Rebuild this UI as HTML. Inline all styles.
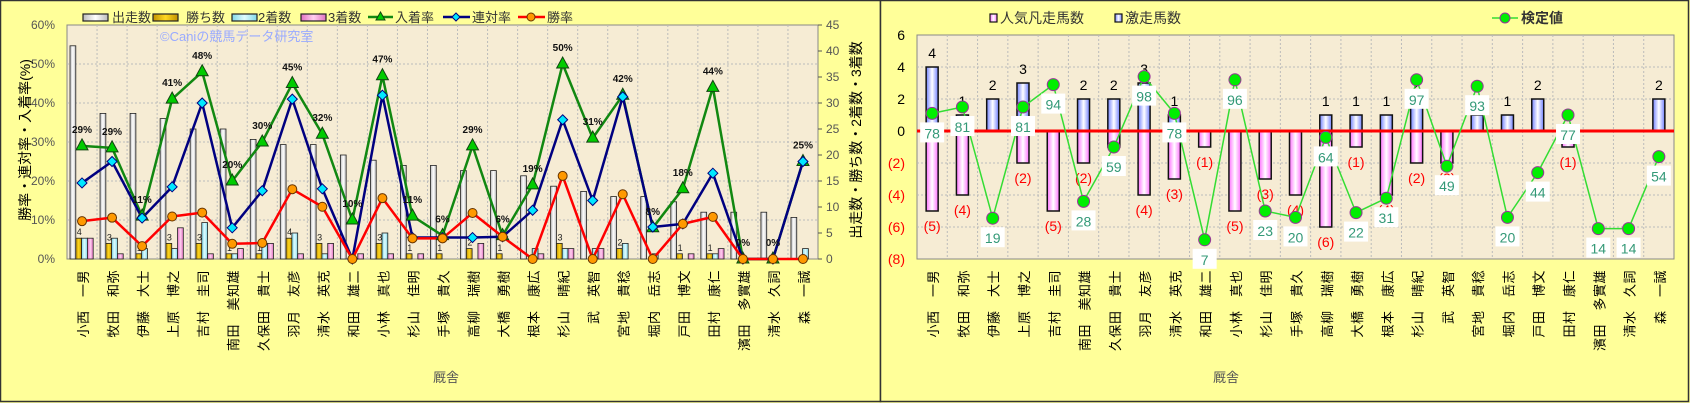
<!DOCTYPE html>
<html><head><meta charset="utf-8">
<style>
html,body{margin:0;padding:0;background:#FFFF99;}
svg{display:block;font-family:"Liberation Sans","Noto Sans CJK JP",sans-serif;}
</style></head>
<body>
<svg id="s" width="1690" height="403" xmlns="http://www.w3.org/2000/svg">
<defs>
<linearGradient id="gW" x1="0" x2="1"><stop offset="0" stop-color="#bbb"/><stop offset="0.5" stop-color="#fff"/><stop offset="1" stop-color="#bbb"/></linearGradient>
<linearGradient id="gY" x1="0" x2="1"><stop offset="0" stop-color="#c09000"/><stop offset="0.5" stop-color="#ffd820"/><stop offset="1" stop-color="#c09000"/></linearGradient>
<linearGradient id="gC" x1="0" x2="1"><stop offset="0" stop-color="#80d8e8"/><stop offset="0.5" stop-color="#e0fcff"/><stop offset="1" stop-color="#80d8e8"/></linearGradient>
<linearGradient id="gP" x1="0" x2="1"><stop offset="0" stop-color="#e070c0"/><stop offset="0.5" stop-color="#ffd0f0"/><stop offset="1" stop-color="#e070c0"/></linearGradient>
<linearGradient id="gB" x1="0" x2="1"><stop offset="0" stop-color="#7080ff"/><stop offset="0.5" stop-color="#ffffff"/><stop offset="1" stop-color="#7080ff"/></linearGradient>
<linearGradient id="gM" x1="0" x2="1"><stop offset="0" stop-color="#ff70ff"/><stop offset="0.5" stop-color="#ffffff"/><stop offset="1" stop-color="#ff70ff"/></linearGradient>
</defs>
<rect x="0.5" y="0.5" width="880" height="401" fill="#FFFF99" stroke="#333" stroke-width="1.5"/>
<rect x="880.5" y="0.5" width="808" height="401" fill="#FFFF99" stroke="#333" stroke-width="1.5"/>
<g id="g"></g>
</svg>
<script>
var NS="http://www.w3.org/2000/svg",G=document.getElementById('g');
function el(t,a,txt){var e=document.createElementNS(NS,t);for(var k in a)e.setAttribute(k,a[k]);if(txt!==undefined)e.textContent=txt;G.appendChild(e);return e;}
var names=["小西　一男","牧田　和弥","伊藤　大士","上原　博之","吉村　圭司","南田　美知雄","久保田　貴士","羽月　友彦","清水　英克","和田　雄二","小林　真也","杉山　佳明","手塚　貴久","高柳　瑞樹","大橋　勇樹","根本　康広","杉山　晴紀","武　英智","宮地　貴稔","堀内　岳志","戸田　博文","田村　康仁","濱田　多實雄","清水　久詞","森　一誠"];
var N=25;
// ===== LEFT =====
var X0=67,X1=818,YT=25,YB=259,cw=(X1-X0)/N;
el('rect',{x:X0,y:YT,width:X1-X0,height:YB-YT,fill:'#F6ECD4',stroke:'#888'});
for(var i=1;i<N;i++)el('line',{x1:X0+i*cw,x2:X0+i*cw,y1:YT,y2:YB,stroke:'#bbb','stroke-dasharray':'2,2'});
for(var j=1;j<6;j++){var y=YB-j*39;el('line',{x1:X0,x2:X1,y1:y,y2:y,stroke:'#bbb','stroke-dasharray':'2,2'});}
for(var j=0;j<=6;j++){var y=YB-j*39;el('text',{x:55,y:y+4,'font-size':12,fill:'#555','text-anchor':'end'},(j*10)+'%');}
for(var j=0;j<=9;j++){var y=YB-j*26;el('line',{x1:X1,x2:X1+4,y1:y,y2:y,stroke:'#555'});el('text',{x:826,y:y+4,'font-size':12,fill:'#555'},''+j*5);}
el('text',{transform:'translate(30,140) rotate(-90)','font-size':14,'text-anchor':'middle',fill:'#000'},'勝率・連対率・入着率(%)');
el('text',{transform:'translate(861,140) rotate(-90)','font-size':14,'text-anchor':'middle',fill:'#000'},'出走数・勝ち数・2着数・3着数');
el('text',{x:160,y:41,'font-size':13,fill:'#99aaff'},'©Caniの競馬データ研究室');
var run=[41,28,28,27,25,25,23,22,22,20,19,18,18,17,17,16,14,13,12,12,11,9,9,9,8];
var w1=[4,3,1,3,3,1,1,4,3,0,3,1,1,2,1,0,3,0,2,0,1,1,0,0,0];
var w2=[4,4,2,2,7,1,3,5,1,0,5,0,0,0,0,2,2,2,3,1,0,1,0,0,2];
var w3=[4,1,0,6,1,2,3,1,3,1,1,1,0,3,0,1,2,2,0,0,1,2,0,0,0];
var cu=26/5;
for(var i=0;i<N;i++){var bx=X0+i*cw+3,bw=5.8;
 [[run,'url(#gW)'],[w1,'url(#gY)'],[w2,'url(#gC)'],[w3,'url(#gP)']].forEach(function(p,k){var v=p[0][i];if(v>0)el('rect',{x:bx+k*bw,y:YB-v*cu,width:bw,height:v*cu,fill:p[1],stroke:'#222','stroke-width':0.8});});
 if(w1[i]>0)el('text',{x:bx+bw+1,y:YB-w1[i]*cu-3,'font-size':9,fill:'#222'},''+w1[i]);
}
var ent=[29,28.5,11,41,48,20,30,45,32,10,47,11,6,29,6,19,50,31,42,8,18,44,0,0,25];
var ren=[19.5,25,10.5,18.5,40,8,17.5,41,18,0,42,5.5,5.5,5.5,5.7,12.5,35.7,15,41.6,8.2,9,22,0,0,25];
var win=[9.7,10.6,3.3,10.9,11.9,3.9,4.1,17.9,13.4,0,15.6,5.3,5.3,11.8,5.7,0,21.3,0,16.6,0,9,10.8,0,0,0];
function cx(i){return X0+(i+0.5)*cw;}
function py(v){return YB-v*3.9;}
function poly(d,c){el('polyline',{points:d.map(function(v,i){return cx(i)+','+py(v);}).join(' '),fill:'none',stroke:c,'stroke-width':2.5,'stroke-linejoin':'round'});}
poly(ent,'#118811');poly(ren,'#000080');poly(win,'#ff0000');
ent.forEach(function(v,i){var x=cx(i),y=py(v);el('polygon',{points:(x)+','+(y-7)+' '+(x-6)+','+(y+4)+' '+(x+6)+','+(y+4),fill:'#00cc00',stroke:'#114411'});
 el('text',{x:x,y:y-13,'font-size':10,'font-weight':'bold','text-anchor':'middle',fill:'#111'},Math.round(v)+'%');});
ren.forEach(function(v,i){var x=cx(i),y=py(v);el('polygon',{points:x+','+(y-5)+' '+(x+5)+','+y+' '+x+','+(y+5)+' '+(x-5)+','+y,fill:'#00e8ff',stroke:'#000080'});});
win.forEach(function(v,i){el('circle',{cx:cx(i),cy:py(v),r:4.5,fill:'#ff9900',stroke:'#663300'});});
function xl(x0,cwid){for(var i=0;i<N;i++){el('text',{transform:'translate('+(x0+(i+0.5)*cwid+6)+',270) rotate(-90)','font-size':13,'text-anchor':'end',fill:'#000','letter-spacing':'0.5'},names[i]);}}
xl(X0,cw);
el('text',{x:433,y:382,'font-size':13,fill:'#555'},'厩舎');
// legend left
function box(x,f){el('rect',{x:x,y:14,width:25,height:7,fill:f,stroke:'#222','stroke-width':1.2});}
box(83,'url(#gW)');el('text',{x:112,y:22,'font-size':13,fill:'#333'},'出走数');
box(153,'url(#gY)');el('text',{x:186,y:22,'font-size':13,fill:'#333'},'勝ち数');
box(232,'url(#gC)');el('text',{x:258,y:22,'font-size':13,fill:'#333'},'2着数');
box(301,'url(#gP)');el('text',{x:328,y:22,'font-size':13,fill:'#333'},'3着数');
el('line',{x1:368,x2:393,y1:17,y2:17,stroke:'#118811','stroke-width':2.5});el('polygon',{points:'380.5,12 376,20 385,20',fill:'#00cc00',stroke:'#114411'});el('text',{x:395,y:22,'font-size':13,fill:'#333'},'入着率');
el('line',{x1:443,x2:470,y1:17,y2:17,stroke:'#000080','stroke-width':2.5});el('polygon',{points:'456,13 460,17 456,21 452,17',fill:'#00e8ff',stroke:'#000080'});el('text',{x:472,y:22,'font-size':13,fill:'#333'},'連対率');
el('line',{x1:518,x2:545,y1:17,y2:17,stroke:'#ff0000','stroke-width':2.5});el('circle',{cx:531,cy:17,r:4,fill:'#ff9900',stroke:'#663300'});el('text',{x:547,y:22,'font-size':13,fill:'#333'},'勝率');
// ===== RIGHT =====
var R0=917,R1=1674,RT=35,RB=259,Z=131,rc=(R1-R0)/N;
el('rect',{x:R0,y:RT,width:R1-R0,height:RB-RT,fill:'#F6ECD4',stroke:'#888'});
for(var i=1;i<N;i++)el('line',{x1:R0+i*rc,x2:R0+i*rc,y1:RT,y2:RB,stroke:'#bbb','stroke-dasharray':'2,2'});
for(var j=-8;j<=6;j+=2){var y=Z-j*16;if(j!=6&&j!=-8)el('line',{x1:R0,x2:R1,y1:y,y2:y,stroke:'#bbb','stroke-dasharray':'2,2'});
 el('text',{x:905,y:y+5,'font-size':14,'text-anchor':'end',fill:j<0?'#ff0000':'#000'},j<0?'('+(-j)+')':''+j);}
var blue=[4,1,2,3,0,2,2,3,1,0,0,0,0,1,1,1,2,0,1,1,2,0,0,0,2];
var pink=[5,4,0,2,5,2,1,4,3,1,5,3,4,6,1,4,2,2,0,0,0,1,0,0,0];
var kv=[1.1,1.5,-5.45,1.5,2.9,-4.4,-1,3.4,1.1,-6.8,3.2,-5,-5.4,-0.4,-5.1,-4.2,3.2,-2.2,2.8,-5.4,-2.6,1,-6.1,-6.1,-1.6];
var kl=[78,81,19,81,94,28,59,98,78,7,96,23,20,64,22,31,97,49,93,20,44,77,14,14,54];
function rx(i){return R0+(i+0.5)*rc;}
for(var i=0;i<N;i++){var x=rx(i);
 if(blue[i]>0){el('rect',{x:x-6,y:Z-blue[i]*16,width:12,height:blue[i]*16,fill:'url(#gB)',stroke:'#111','stroke-width':1.5});el('text',{x:x,y:Z-blue[i]*16-9,'font-size':14,'text-anchor':'middle',fill:'#000'},''+blue[i]);}
 if(pink[i]>0){el('rect',{x:x-6,y:Z,width:12,height:pink[i]*16,fill:'url(#gM)',stroke:'#111','stroke-width':1.5});el('text',{x:x,y:Z+pink[i]*16+20,'font-size':14,'text-anchor':'middle',fill:'#ff0000'},'('+pink[i]+')');}
}
el('line',{x1:R0,x2:R1,y1:Z,y2:Z,stroke:'#ff0000','stroke-width':3});
el('polyline',{points:kv.map(function(v,i){return rx(i)+','+(Z-v*16);}).join(' '),fill:'none',stroke:'#33dd33','stroke-width':1.5});
kv.forEach(function(v,i){var x=rx(i),y=Z-v*16;
 el('rect',{x:x-12,y:y+9,width:24,height:20,fill:'#fff'});
 el('text',{x:x,y:y+25,'font-size':14,'text-anchor':'middle',fill:'#339977'},''+kl[i]);
 el('circle',{cx:x,cy:y,r:6,fill:'#00ee00',stroke:'#993399','stroke-width':1});});
xl(R0,rc);
el('text',{x:1213,y:382,'font-size':13,fill:'#555'},'厩舎');
el('rect',{x:990,y:14,width:7,height:8,fill:'url(#gM)',stroke:'#111','stroke-width':1.2});el('text',{x:1000,y:23,'font-size':14,fill:'#333'},'人気凡走馬数');
el('rect',{x:1115,y:14,width:7,height:8,fill:'url(#gB)',stroke:'#111','stroke-width':1.2});el('text',{x:1125,y:23,'font-size':14,fill:'#333'},'激走馬数');
el('line',{x1:1492,x2:1518,y1:18,y2:18,stroke:'#33dd33','stroke-width':1.5});el('circle',{cx:1505,cy:18,r:5,fill:'#00ee00',stroke:'#993399'});el('text',{x:1521,y:23,'font-size':14,'font-weight':'bold',fill:'#333'},'検定値');
</script>
</body></html>
